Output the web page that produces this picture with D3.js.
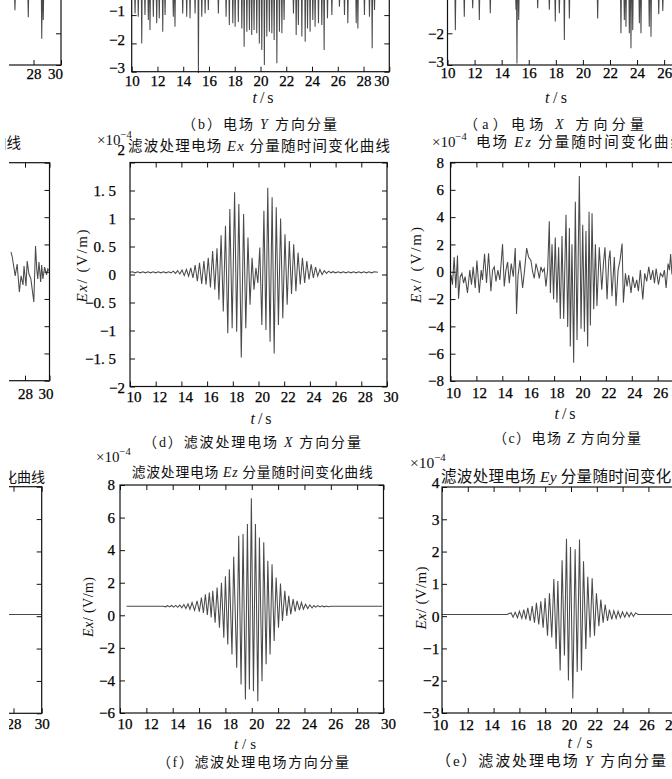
<!DOCTYPE html>
<html>
<head>
<meta charset="utf-8">
<script src="https://cdn.jsdelivr.net/npm/d3@7"></script>
<style>
  body { margin: 0; background: #fff; }
  svg { display: block; }
</style>
</head>
<body>
<div id="fig"></div>
<script>
const width = 672;
const height = 779;
const SERIF = '"Liberation Serif","DejaVu Serif",serif';
const CJK = '"Noto Sans CJK SC","Noto Sans CJK JP",sans-serif';

// === datos ===
const ticksT = [10, 12, 14, 16, 18, 20, 22, 24, 26, 28, 30];
const ticksB = [-3, -2, -1, 0];
const ticksA = [-3, -2];
const ticksD = [-2, -1.5, -1, -0.5, 0, 0.5, 1, 1.5, 2];
const labelsD = ["−2", "−1. 5", "−1", "−0. 5", "0", "0. 5", "1", "1. 5", "2"];
const ticksC = [-8, -6, -4, -2, 0, 2, 4, 6, 8];
const ticksF = [-6, -4, -2, 0, 2, 4, 6, 8];
const ticksE = [-3, -2, -1, 0, 1, 2, 3, 4];

// picos hacia abajo (t, valor mínimo)
const spikesL1 = [[26.65, -1.27], [27.62, -1.49], [28.6, -2.17], [28.71, -1.58]];
const spikesB = [[10.26, -0.94], [10.51, -1.06], [10.78, -2.0], [11.03, -1.0], [11.29, -1.17], [11.42, -1.53], [11.68, -1.06], [11.94, -1.29], [12.14, -1.11], [12.41, -1.59], [12.59, -1.0], [13.23, -1.06], [13.36, -1.41], [13.96, -0.94], [14.27, -1.06], [14.53, -1.11], [14.92, -0.94], [15.18, -3.05], [15.44, -1.06], [15.70, -0.94], [15.95, -0.82], [16.73, -0.94], [17.33, -1.06], [17.58, -1.35], [17.85, -1.29], [18.03, -1.41], [18.28, -1.24], [18.55, -1.47], [18.73, -2.12], [18.94, -1.59], [19.14, -1.53], [19.32, -1.70], [19.50, -1.53], [19.71, -1.64], [19.91, -2.0], [20.10, -2.23], [20.30, -2.76], [20.49, -1.76], [20.69, -1.59], [20.88, -1.64], [21.06, -1.88], [21.27, -2.70], [21.47, -1.59], [21.66, -1.64], [21.83, -1.17], [22.56, -0.94], [22.77, -1.70], [22.94, -1.35], [23.21, -1.76], [23.47, -1.94], [23.65, -1.47], [23.85, -1.59], [24.06, -1.17], [24.24, -1.41], [24.50, -1.29], [24.76, -1.35], [24.94, -2.23], [25.20, -1.11], [25.54, -1.0], [26.13, -0.70], [26.52, -1.0], [26.78, -1.29], [27.43, -1.29], [27.56, -1.47], [28.07, -1.0], [28.46, -1.06], [28.67, -2.17], [28.85, -0.82]];
const spikesA = [[10.58, -1.90], [11.24, -1.48], [11.86, -1.21], [12.35, -1.58], [13.16, -1.37], [15.06, -1.26], [15.13, -2.95], [15.26, -1.58], [16.66, -1.21], [17.52, -1.26], [17.96, -1.63], [18.26, -1.37], [18.63, -2.21], [19.0, -1.53], [21.09, -1.53], [22.81, -2.0], [23.06, -1.58], [23.18, -1.79], [23.43, -2.0], [23.55, -2.47], [23.68, -1.90], [24.17, -1.68], [24.29, -2.0], [24.90, -1.79], [25.03, -2.11], [25.6, -1.4], [25.9, -1.3]];

const sigL2 = [[26.86, 1.44], [26.96, 1.08], [27.2, -0.31], [27.36, 0.56], [27.54, -1.49], [27.68, -0.31], [27.84, -0.97], [27.92, 0.42], [28.08, -1.05], [28.18, 0.78], [28.32, -0.17], [28.48, -0.53], [28.72, -2.22], [28.86, 1.88], [28.96, 0.2], [29.04, -0.53], [29.14, 0.71], [29.28, -0.75], [29.36, 0.49], [29.46, -0.53], [29.6, 0.34], [29.76, -0.24], [29.86, 0.2], [30.0, 0.05]];

const sigD = [[10.0, 0.04], [10.2, 0.05], [10.4, 0.03], [10.6, 0.05], [10.8, 0.03], [11.0, 0.05], [11.2, 0.03], [11.4, 0.05], [11.6, 0.03], [11.8, 0.05], [12.0, 0.03], [12.2, 0.05], [12.4, 0.03], [12.6, 0.05], [12.8, 0.03], [13.0, 0.05], [13.2, 0.03], [13.37, 0.06], [13.54, 0.02], [13.71, 0.07], [13.88, 0.01], [14.05, 0.08], [14.22, -0.02], [14.39, 0.09], [14.56, -0.03], [14.73, 0.12], [14.90, -0.06], [15.07, 0.17], [15.24, -0.12], [15.41, 0.21], [15.58, -0.17], [15.75, 0.24], [15.92, -0.18], [16.09, 0.30], [16.26, -0.23], [16.43, 0.42], [16.60, -0.27], [16.77, 0.47], [16.92, -0.45], [17.09, 0.70], [17.26, -0.66], [17.43, 0.87], [17.61, -1.05], [17.77, 1.17], [17.95, -0.96], [18.14, 1.47], [18.30, -1.02], [18.47, 1.26], [18.66, -1.48], [18.84, 1.08], [19.01, -0.96], [19.18, 0.66], [19.34, -0.54], [19.50, 0.30], [19.65, -0.27], [19.80, 0.12], [19.95, -0.15], [20.10, 0.48], [20.26, -0.90], [20.42, 1.14], [20.58, -0.99], [20.72, 1.55], [20.90, -1.20], [21.06, 1.38], [21.22, -1.41], [21.38, 1.20], [21.55, -0.90], [21.72, 1.0], [21.89, -0.78], [22.06, 0.72], [22.23, -0.54], [22.40, 0.6], [22.57, -0.35], [22.74, 0.54], [22.91, -0.3], [23.08, 0.39], [23.25, -0.18], [23.42, 0.30], [23.59, -0.15], [23.76, 0.24], [23.93, -0.09], [24.10, 0.18], [24.27, -0.06], [24.44, 0.13], [24.61, -0.03], [24.78, 0.09], [24.95, 0.0], [25.12, 0.07], [25.29, 0.02], [25.46, 0.06], [25.63, 0.03], [25.8, 0.05], [26.0, 0.03], [26.2, 0.05], [26.4, 0.03], [26.6, 0.05], [26.8, 0.03], [27.0, 0.05], [27.2, 0.03], [27.4, 0.05], [27.6, 0.03], [27.8, 0.05], [28.0, 0.03], [28.2, 0.05], [28.4, 0.03], [28.6, 0.05], [28.8, 0.03], [29.0, 0.05], [29.3, 0.04]];

const sigC = [[10.0, -0.71], [10.05, -0.24], [10.15, -0.95], [10.28, 1.07], [10.41, -1.19], [10.54, 1.19], [10.62, -1.98], [10.75, -0.36], [10.88, -0.12], [11.01, -0.83], [11.13, -0.36], [11.31, -1.55], [11.49, 0.12], [11.62, -0.95], [11.75, 0.36], [11.91, -1.19], [12.04, 0.83], [12.22, -1.55], [12.37, 0.12], [12.47, -0.6], [12.63, 1.31], [12.78, -0.83], [12.94, 1.36], [13.12, -1.43], [13.25, 0.12], [13.38, 0.36], [13.51, -0.71], [13.66, 0.12], [13.81, -0.6], [14.02, 2.02], [14.15, -1.07], [14.28, 0.12], [14.41, 0.71], [14.54, -0.83], [14.69, 0.6], [14.85, -0.36], [15.0, 1.74], [15.10, -3.1], [15.21, -0.36], [15.36, 0.83], [15.57, -1.19], [15.72, 0.12], [15.88, 1.74], [16.03, 1.07], [16.21, 0.83], [16.34, 0], [16.47, -0.48], [16.60, 0.6], [16.73, 0.12], [16.86, -0.48], [16.98, 0.36], [17.11, 0], [17.24, 0.24], [17.37, -1.07], [17.50, 0.12], [17.63, 3.69], [17.71, -1.55], [17.84, 2.02], [17.96, -2.02], [18.09, 2.5], [18.22, -2.26], [18.35, 1.79], [18.48, -3.45], [18.61, 2.62], [18.74, -3.45], [18.92, 4.17], [19.05, -4.05], [19.18, 3.21], [19.25, -5.48], [19.38, 2.02], [19.51, -6.67], [19.64, 5.12], [19.77, -5.0], [19.95, 7.02], [20.08, -4.17], [20.21, 3.45], [20.34, -4.4], [20.46, 2.98], [20.59, -5.48], [20.70, 4.4], [20.80, -3.93], [20.93, 4.29], [21.06, -2.74], [21.19, 2.02], [21.31, -2.5], [21.49, 1.79], [21.68, -1.31], [21.83, 0.83], [21.93, 1.79], [22.09, -2.02], [22.22, 0.83], [22.32, 1.55], [22.47, -1.79], [22.65, 1.07], [22.78, -2.5], [22.94, 0.12], [23.09, 0.83], [23.25, 2.07], [23.35, -2.26], [23.51, -0.12], [23.63, -1.07], [23.76, -0.24], [23.94, -1.55], [24.07, -0.36], [24.23, -1.19], [24.38, -0.6], [24.51, -1.43], [24.66, 0.12], [24.85, -2.02], [25.0, -0.12], [25.15, -0.71], [25.31, 0.36], [25.46, -0.6], [25.62, 0.12], [25.75, -0.83], [25.88, 0.24], [26.06, -0.95], [26.21, -0.12], [26.39, -0.36], [26.52, 0.12], [26.65, -1.19], [26.80, 0.6], [26.91, 0.12], [27.0, 1.3], [27.1, -0.2]];

const sigL3 = [[26.0, 0.05], [30.0, 0.05]];

const sigF = [[10.5, 0.55], [13.3, 0.55], [13.45, 0.52], [13.61, 0.59], [13.76, 0.51], [13.92, 0.6], [14.07, 0.5], [14.23, 0.61], [14.38, 0.49], [14.54, 0.63], [14.69, 0.46], [14.85, 0.66], [15.0, 0.42], [15.16, 0.7], [15.31, 0.37], [15.47, 0.78], [15.66, 0.3], [15.85, 0.88], [16.02, 0.22], [16.18, 1.09], [16.33, 0.14], [16.48, 1.29], [16.63, 0.02], [16.78, 1.4], [16.92, -0.14], [17.04, 1.5], [17.22, -0.45], [17.37, 1.7], [17.55, -0.76], [17.70, 2.0], [17.88, -1.38], [18.0, 2.4], [18.18, -1.79], [18.30, 2.83], [18.5, -2.4], [18.63, 3.6], [18.86, -3.22], [19.01, 4.89], [19.19, -4.25], [19.34, 4.99], [19.52, -5.17], [19.67, 5.6], [19.82, -4.56], [19.97, 7.19], [20.13, -4.66], [20.28, 5.6], [20.46, -5.28], [20.58, 4.78], [20.78, -4.05], [20.91, 4.48], [21.09, -3.0], [21.22, 3.35], [21.39, -2.4], [21.54, 3.14], [21.70, -1.58], [21.85, 2.32], [22.03, -0.76], [22.18, 1.95], [22.33, -0.35], [22.51, 1.5], [22.66, -0.04], [22.81, 1.19], [22.96, 0.06], [23.14, 0.99], [23.29, 0.23], [23.44, 0.88], [23.62, 0.31], [23.77, 0.78], [23.92, 0.37], [24.08, 0.68], [24.25, 0.41], [24.41, 0.64], [24.58, 0.45], [24.71, 0.6], [24.86, 0.5], [25.02, 0.59], [25.18, 0.51], [25.34, 0.58], [25.5, 0.52], [25.66, 0.57], [25.82, 0.53], [26.0, 0.56], [26.2, 0.55], [29.9, 0.55]];

const sigE = [[10.0, 0.05], [15.05, 0.05], [15.2, 0.08], [15.36, 0.1], [15.51, -0.03], [15.67, 0.12], [15.85, -0.05], [16.0, 0.15], [16.19, -0.07], [16.34, 0.2], [16.50, -0.1], [16.65, 0.26], [16.83, -0.15], [16.99, 0.31], [17.17, -0.2], [17.32, 0.41], [17.50, -0.26], [17.66, 0.46], [17.84, -0.36], [17.99, 0.56], [18.18, -0.61], [18.33, 0.71], [18.51, -0.66], [18.67, 1.15], [18.85, -1.02], [18.98, 1.09], [19.16, -1.68], [19.31, 1.73], [19.49, -1.22], [19.65, 2.4], [19.80, -1.99], [19.96, 2.14], [20.14, -2.55], [20.32, 2.07], [20.48, -1.73], [20.66, 2.37], [20.81, -1.68], [20.97, 1.7], [21.15, -1.02], [21.30, 1.22], [21.48, -0.66], [21.64, 1.17], [21.82, -0.61], [21.97, 0.71], [22.16, -0.31], [22.31, 0.51], [22.49, -0.2], [22.65, 0.36], [22.83, -0.15], [22.98, 0.2], [23.16, -0.1], [23.32, 0.17], [23.50, -0.07], [23.65, 0.15], [23.83, -0.05], [23.99, 0.13], [24.17, -0.03], [24.33, 0.12], [24.51, -0.02], [24.66, 0.11], [24.84, -0.01], [25.0, 0.1], [25.2, 0.05], [30.0, 0.05]];

const svg = d3.select("#fig").append("svg")
  .attr("width", width)
  .attr("height", height);

svg.append("rect").attr("width", width).attr("height", height).attr("fill", "#fff");

const defs = svg.append("defs");
// recorte del borde izquierdo de la imagen escaneada
defs.append("clipPath").attr("id", "cutLeft").append("rect")
  .attr("x", 9).attr("y", 0).attr("width", width).attr("height", height);
defs.append("clipPath").attr("id", "cutTitle").append("rect")
  .attr("x", 5).attr("y", 0).attr("width", width).attr("height", height);

const fmtMinus = d => d < 0 ? "−" + Math.abs(d) : String(d);

function drawPanel(o) {
  const x = d3.scaleLinear().domain([10, 30]).range([o.left, o.right]);
  const y = d3.scaleLinear().domain(o.yDom).range([o.bottom, o.top]);
  const g = svg.append("g").attr("color", "#111");
  if (o.cut) g.attr("clip-path", "url(#cutLeft)");

  const clipId = "clip-" + o.id;
  defs.append("clipPath").attr("id", clipId).append("rect")
    .attr("x", o.left).attr("y", o.top)
    .attr("width", o.right - o.left).attr("height", o.bottom - o.top + (o.spikeTop !== undefined ? 3 : 0));

  let pts = o.data;
  if (o.spikeTop !== undefined) {
    pts = [];
    o.data.forEach(([t, v]) => pts.push([t - 0.03, o.spikeTop], [t, v], [t + 0.03, o.spikeTop]));
  }
  const line = d3.line().x(d => x(d[0])).y(d => y(d[1]));
  g.append("path")
    .attr("d", line(pts))
    .attr("fill", "none")
    .attr("stroke", "#4a4a4a")
    .attr("stroke-width", 1.05)
    .attr("clip-path", `url(#${clipId})`);

  g.append("rect")
    .attr("x", o.left).attr("y", o.top)
    .attr("width", o.right - o.left).attr("height", o.bottom - o.top)
    .attr("fill", "none").attr("stroke", "#111").attr("stroke-width", 1.2);

  const fs = o.fs || 15;
  const axB = g.append("g").attr("transform", `translate(0,${o.bottom})`)
    .call(d3.axisBottom(x).tickValues(ticksT).tickSize(-5).tickPadding(o.xPad).tickFormat(d => d));
  axB.selectAll("text").attr("x", d => (d === 30 && o.lastDx !== undefined) ? o.lastDx : (o.xDx || 0));
  // quitar etiquetas que caen fuera del recorte
  axB.selectAll(".tick").filter(d => x(d) < 13 || x(d) > width + 10).select("text").remove();
  g.append("g").attr("transform", `translate(0,${o.top})`)
    .call(d3.axisTop(x).tickValues(ticksT).tickSize(-5).tickFormat(""));
  const axL = g.append("g").attr("transform", `translate(${o.left},0)`)
    .call(d3.axisLeft(y).tickValues(o.yTicks).tickSize(-5).tickPadding(o.yPad)
      .tickFormat((d, i) => o.yLabels ? o.yLabels[i] : fmtMinus(d)));
  axL.selectAll("text")
    .attr("x", d => -o.yPad + (o.yLabX ? o.yLabX(d) : 0))
    .attr("y", d => (o.yLabY ? o.yLabY(d) : 0) + (o.yDy || 0));
  if (o.left < 0) axL.selectAll("text").remove();
  axL.selectAll(".tick").filter(d => y(d) < 0).select("text").remove();
  g.append("g").attr("transform", `translate(${o.right},0)`)
    .call(d3.axisRight(y).tickValues(o.yTicks).tickSize(-5).tickFormat(""));

  g.selectAll(".domain").remove();
  g.selectAll(".tick line").attr("stroke-width", 1);
  g.selectAll("g").attr("font-family", SERIF).attr("font-size", fs);
  g.selectAll(".tick text").attr("fill", "#000").attr("stroke", "#000").attr("stroke-width", 0.25);
  return { x, y, g };
}

// texto mixto: chino + letras latinas
function rich(cx, cy, parts, o = {}) {
  const size = o.size || 14;
  const base = cy + size * 0.36;
  const t = svg.append("text")
    .attr("x", cx).attr("y", base)
    .attr("font-size", size)
    .attr("fill", "#111")
    .attr("text-anchor", o.anchor || "start");
  if (o.len) t.attr("textLength", o.len).attr("lengthAdjust", "spacing");
  if (o.rotate) t.attr("transform", `rotate(-90,${cx},${cy})`);
  if (o.clip) t.attr("clip-path", o.clip);
  parts.forEach(([s, k]) => {
    const sp = t.append("tspan").text(s);
    if (k === "it") sp.attr("font-family", SERIF).attr("font-style", "italic");
    else if (k === "num") sp.attr("font-family", SERIF);
    else sp.attr("font-family", CJK);
  });
  return t;
}

function times10(x, yBase, size = 15) {
  const t = svg.append("text").attr("x", x).attr("y", yBase)
    .attr("font-family", SERIF).attr("font-size", size).attr("fill", "#111");
  t.append("tspan").text("×10");
  t.append("tspan").attr("font-size", size * 0.7).attr("dy", -size * 0.45).text("−4");
}

function tLabel(cx, cy, len, size = 16) {
  rich(cx, cy, [["t", "it"], ["/s", "num"]], { anchor: "middle", size, len });
}

// ===== FILA 1 =====
drawPanel({ id: "L1", cut: true, left: -214, right: 61, top: -93.5, bottom: 65, yDom: [-3, 2],
  yTicks: ticksA, yPad: 4, xPad: 3, lastDx: -6, data: spikesL1, spikeTop: -0.8 });
drawPanel({ id: "B", left: 131.7, right: 389.3, top: -69.8, bottom: 71.7, yDom: [-3, 2],
  yTicks: ticksB, yPad: 6.7, yDy: -4, xPad: 3.5, lastDx: -8, data: spikesB, spikeTop: -0.3 });
drawPanel({ id: "A", left: 447.5, right: 718.3, top: -93.5, bottom: 65, yDom: [-3, 2],
  yTicks: ticksA, yPad: 3.5, yLabY: d => d === -3 ? -3 : 0, xPad: 2.5, data: spikesA, spikeTop: -0.8 });

tLabel(263, 97, 21);
tLabel(556, 97, 22);
rich(182, 124, [["（", "cn"], ["b", "num"], ["）电场 ", "cn"], ["Y", "it"], [" 方向分量", "cn"]], { len: 155 });
rich(464, 124, [["（", "cn"], ["a", "num"], ["）电场 ", "cn"], ["X", "it"], [" 方向分量", "cn"]], { len: 180 });

// ===== FILA 2 =====
drawPanel({ id: "L2", cut: true, left: -195.5, right: 49.5, top: 162.7, bottom: 380.7, yDom: [-8, 8],
  yTicks: ticksC, yPad: 6, xPad: 8, lastDx: -4, data: sigL2 });
rich(21, 143, [["电场 ", "cn"], ["Ey", "it"], [" 分量随时间变化曲线", "cn"]], { anchor: "end", size: 14.5, clip: "url(#cutTitle)" });

drawPanel({ id: "D", left: 130, right: 387, top: 162.5, bottom: 386.5, yDom: [-2, 2],
  yTicks: ticksD, yLabels: labelsD, yPad: 14,
  yLabX: d => Math.abs(d) === 2 ? 9 : 0,
  yLabY: d => d === 2 ? -13 : (d === -2 ? 1.5 : 0),
  xPad: 5, xDx: 3.5, data: sigD });
times10(97, 145);
rich(128, 146, [["滤波处理电场 ", "cn"], ["Ex", "it"], [" 分量随时间变化曲线", "cn"]], { size: 14.5, len: 262 });
rich(82, 266, [["Ex", "it"], ["/ (V/m)", "num"]], { anchor: "middle", size: 15, rotate: true, len: 73 });
tLabel(261, 418, 21);
rich(143, 442, [["（", "cn"], ["d", "num"], ["）滤波处理电场 ", "cn"], ["X", "it"], [" 方向分量", "cn"]], { len: 218 });

drawPanel({ id: "C", left: 450.5, right: 709.5, top: 162.5, bottom: 381, yDom: [-8, 8],
  yTicks: ticksC, yPad: 6.5, xPad: 6, xDx: 2.5, data: sigC });
times10(432, 147);
rich(476, 142, [["电场 ", "cn"], ["Ez", "it"], [" 分量随时间变化曲线", "cn"]], { size: 14.5, len: 209 });
rich(416, 265, [["Ex", "it"], ["/ (V/m)", "num"]], { anchor: "middle", size: 15, rotate: true, len: 76 });
tLabel(565, 413, 21);
rich(493, 438, [["（", "cn"], ["c", "num"], ["）电场 ", "cn"], ["Z", "it"], [" 方向分量", "cn"]], { len: 148 });

// ===== FILA 3 =====
drawPanel({ id: "L3", cut: true, left: -240.3, right: 41.7, top: 486.7, bottom: 713.3, yDom: [-3, 4],
  yTicks: ticksE, yPad: 3, xPad: 5, data: sigL3 });
rich(45, 477, [["滤波处理电场 ", "cn"], ["Ex", "it"], [" 分量随时间变化曲线", "cn"]], { anchor: "end", size: 14, clip: "url(#cutLeft)" });

drawPanel({ id: "F", left: 120, right: 383.5, top: 485, bottom: 713, yDom: [-6, 8],
  yTicks: ticksF, yPad: 5, xPad: 5, xDx: 4.5, data: sigF });
times10(96, 462);
rich(131.7, 472, [["滤波处理电场 ", "cn"], ["Ez", "it"], [" 分量随时间变化曲线", "cn"]], { size: 13.8, len: 241 });
rich(88, 607, [["Ex", "it"], ["/ (V/m)", "num"]], { anchor: "middle", size: 14, rotate: true, len: 60 });
tLabel(245, 744, 22, 15);
rich(157, 762, [["（", "cn"], ["f", "num"], ["）滤波处理电场方向分量", "cn"]], { len: 192 });

drawPanel({ id: "E", left: 442, right: 700, top: 487, bottom: 713, yDom: [-3, 4],
  yTicks: ticksE, yPad: 2.5, yLabY: d => d === 4 ? -4 : 0, xPad: 6, xDx: -2, fs: 15.5, data: sigE });
times10(410, 468, 15.5);
rich(441, 476, [["滤波处理电场 ", "cn"], ["Ey", "it"], [" 分量随时间变化曲线", "cn"]], { size: 15.5, len: 262 });
rich(421, 598, [["Ex", "it"], ["/ (V/m)", "num"]], { anchor: "middle", size: 15, rotate: true, len: 63 });
tLabel(580, 742, 25, 16);
rich(436, 761, [["（", "cn"], ["e", "num"], ["）滤波处理电场 ", "cn"], ["Y", "it"], [" 方向分量", "cn"]], { size: 15, len: 230 });
</script>
</body>
</html>
